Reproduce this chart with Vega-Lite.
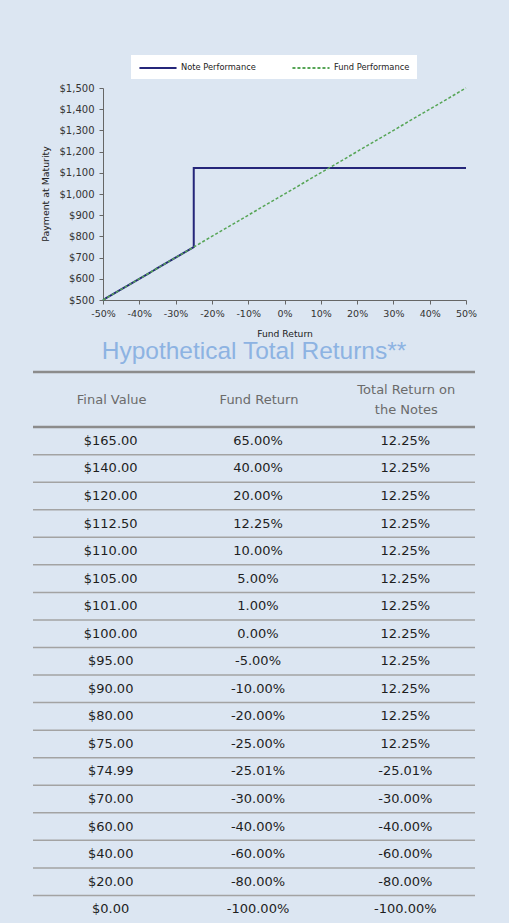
{
  "$schema": "https://vega.github.io/schema/vega-lite/v6.json",
  "background": "#dce6f2",
  "padding": {"left": 31, "top": 55, "right": 34, "bottom": 0},
  "spacing": 0,
  "config": {
    "view": {"stroke": null},
    "font": "DejaVu Sans",
    "locale": {"number": {"decimal": ".", "thousands": ",", "grouping": [3], "currency": ["$", ""], "minus": "-"}}
  },
  "datasets": {
    "axisTitle": [
      {"label": "Payment at Maturity"}
    ],
    "lines": [
      {"series": "Note Performance", "fundReturn": -0.5, "payment": 500},
      {"series": "Note Performance", "fundReturn": -0.25, "payment": 750},
      {"series": "Note Performance", "fundReturn": -0.25, "payment": 1122.5},
      {"series": "Note Performance", "fundReturn": 0.5, "payment": 1122.5},
      {"series": "Fund Performance", "fundReturn": -0.5, "payment": 500},
      {"series": "Fund Performance", "fundReturn": 0.5, "payment": 1500}
    ],
    "table": [
      {"row": "R1", "finalValue": 165, "fundReturn": 0.65, "noteReturn": 0.1225},
      {"row": "R2", "finalValue": 140, "fundReturn": 0.40, "noteReturn": 0.1225},
      {"row": "R3", "finalValue": 120, "fundReturn": 0.20, "noteReturn": 0.1225},
      {"row": "R4", "finalValue": 112.5, "fundReturn": 0.1225, "noteReturn": 0.1225},
      {"row": "R5", "finalValue": 110, "fundReturn": 0.10, "noteReturn": 0.1225},
      {"row": "R6", "finalValue": 105, "fundReturn": 0.05, "noteReturn": 0.1225},
      {"row": "R7", "finalValue": 101, "fundReturn": 0.01, "noteReturn": 0.1225},
      {"row": "R8", "finalValue": 100, "fundReturn": 0, "noteReturn": 0.1225},
      {"row": "R9", "finalValue": 95, "fundReturn": -0.05, "noteReturn": 0.1225},
      {"row": "R10", "finalValue": 90, "fundReturn": -0.10, "noteReturn": 0.1225},
      {"row": "R11", "finalValue": 80, "fundReturn": -0.20, "noteReturn": 0.1225},
      {"row": "R12", "finalValue": 75, "fundReturn": -0.25, "noteReturn": 0.1225},
      {"row": "R13", "finalValue": 74.99, "fundReturn": -0.2501, "noteReturn": -0.2501},
      {"row": "R14", "finalValue": 70, "fundReturn": -0.30, "noteReturn": -0.30},
      {"row": "R15", "finalValue": 60, "fundReturn": -0.40, "noteReturn": -0.40},
      {"row": "R16", "finalValue": 40, "fundReturn": -0.60, "noteReturn": -0.60},
      {"row": "R17", "finalValue": 20, "fundReturn": -0.80, "noteReturn": -0.80},
      {"row": "R18", "finalValue": 0, "fundReturn": -1.00, "noteReturn": -1.00}
    ],
    "headers": [
      {"row": "H1", "col": "Final Value", "label": "Final Value"},
      {"row": "H1", "col": "Fund Return", "label": "Fund Return"},
      {"row": "H1", "col": "Total Return on the Notes", "label": "Total Return on\nthe Notes"}
    ],
    "thickLines": [
      {"row": "H1"},
      {"row": "R1"}
    ]
  },
  "vconcat": [
    {
      "spacing": 0,
      "hconcat": [
        {
          "width": 26,
          "height": 212,
          "data": {"name": "axisTitle"},
          "mark": {"type": "text", "angle": 270, "fontSize": 9.4, "color": "#222222", "align": "center", "baseline": "middle"},
          "encoding": {"text": {"field": "label"}}
        },
        {
          "width": 363,
          "height": 212,
          "data": {"name": "lines"},
          "encoding": {
            "x": {
              "field": "fundReturn", "type": "quantitative",
              "scale": {"domain": [-0.5, 0.5], "nice": false},
              "axis": {
                "values": [-0.5, -0.4, -0.3, -0.2, -0.1, 0, 0.1, 0.2, 0.3, 0.4, 0.5],
                "format": ".0%", "grid": false, "labelOverlap": false, "labelFlush": false,
                "labelFontSize": 9.5, "labelColor": "#333333", "labelPadding": 4,
                "tickSize": 4, "tickColor": "#666666", "domainColor": "#666666",
                "title": "Fund Return", "titleFontSize": 9.2, "titleFontWeight": "normal",
                "titleColor": "#222222", "titlePadding": 12
              }
            },
            "y": {
              "field": "payment", "type": "quantitative",
              "scale": {"domain": [500, 1500], "nice": false, "zero": false},
              "axis": {
                "values": [500, 600, 700, 800, 900, 1000, 1100, 1200, 1300, 1400, 1500],
                "format": "$,.0f", "grid": false, "labelOverlap": false,
                "labelFontSize": 10, "labelColor": "#333333", "labelPadding": 5,
                "tickSize": 4, "tickColor": "#666666", "domainColor": "#666666",
                "title": null
              }
            },
            "color": {
              "field": "series", "type": "nominal",
              "scale": {"domain": ["Note Performance", "Fund Performance"], "range": ["#25267a", "#56a556"]},
              "legend": {
                "orient": "none", "legendX": 98, "legendY": -33, "direction": "horizontal",
                "title": null, "fillColor": "white", "padding": 7,
                "symbolType": "M-4,0H4", "symbolSize": 86, "symbolStrokeWidth": 2, "symbolOffset": 14,
                "labelFontSize": 8.3, "labelColor": "#222222", "labelOffset": 17, "columnPadding": 32
              }
            },
            "strokeDash": {
              "field": "series", "type": "nominal",
              "scale": {"domain": ["Note Performance", "Fund Performance"], "range": [[1, 0], [3, 2]]},
              "legend": {
                "orient": "none", "legendX": 98, "legendY": -33, "direction": "horizontal",
                "title": null, "fillColor": "white", "padding": 7,
                "symbolType": "M-4,0H4", "symbolSize": 86, "symbolStrokeWidth": 2, "symbolOffset": 14,
                "labelFontSize": 8.3, "labelColor": "#222222", "labelOffset": 17, "columnPadding": 32
              }
            },
            "order": {"value": null}
          },
          "layer": [
            {"transform": [{"filter": "datum.series === 'Note Performance'"}], "mark": {"type": "line", "strokeWidth": 2}},
            {"transform": [{"filter": "datum.series === 'Fund Performance'"}], "mark": {"type": "line", "strokeWidth": 1.5}}
          ]
        }
      ]
    },
    {
      "width": 442,
      "height": 551,
      "title": {
        "text": "Hypothetical Total Returns**", "font": "Liberation Sans", "fontSize": 24.5,
        "fontWeight": "normal", "color": "#8db3e2", "anchor": "middle", "offset": 6
      },
      "layer": [
        {
          "data": {"name": "table"},
          "transform": [{"filter": "datum.row !== 'R1'"}],
          "mark": {"type": "rule", "stroke": "#a3a3a3", "strokeWidth": 1.5},
          "encoding": {
            "y": {"field": "row", "type": "ordinal", "bandPosition": 0,
              "scale": {"domain": ["H1","H2","R1","R2","R3","R4","R5","R6","R7","R8","R9","R10","R11","R12","R13","R14","R15","R16","R17","R18"], "paddingInner": 0, "paddingOuter": 0},
              "axis": null}
          }
        },
        {
          "data": {"name": "thickLines"},
          "mark": {"type": "rule", "stroke": "#8c8c8c", "strokeWidth": 2.5},
          "encoding": {
            "y": {"field": "row", "type": "ordinal", "bandPosition": 0, "axis": null}
          }
        },
        {
          "data": {"name": "headers"},
          "transform": [{"filter": "indexof(datum.label, '\\n') < 0"}],
          "mark": {"type": "text", "fontSize": 13, "color": "#6b6b6b", "align": "center", "baseline": "middle", "dx": 5},
          "encoding": {
            "x": {"field": "col", "type": "nominal", "axis": null,
              "scale": {"domain": ["Final Value", "Fund Return", "Total Return on the Notes"], "paddingInner": 0, "paddingOuter": 0}},
            "y": {"field": "row", "type": "ordinal", "bandPosition": 1, "axis": null},
            "text": {"field": "label"}
          }
        },
        {
          "data": {"name": "headers"},
          "transform": [{"filter": "indexof(datum.label, '\\n') >= 0"}],
          "mark": {"type": "text", "fontSize": 13, "color": "#6b6b6b", "align": "center", "baseline": "middle", "lineBreak": "\n", "lineHeight": 20, "dx": 5, "dy": -10},
          "encoding": {
            "x": {"field": "col", "type": "nominal", "axis": null,
              "scale": {"domain": ["Final Value", "Fund Return", "Total Return on the Notes"], "paddingInner": 0, "paddingOuter": 0}},
            "y": {"field": "row", "type": "ordinal", "bandPosition": 1, "axis": null},
            "text": {"field": "label"}
          }
        },
        {
          "data": {"name": "table"},
          "mark": {"type": "text", "fontSize": 13, "color": "#1e1e1e", "align": "center", "baseline": "middle", "dx": 4},
          "encoding": {
            "x": {"datum": "Final Value", "type": "nominal", "axis": null},
            "y": {"field": "row", "type": "ordinal", "axis": null},
            "text": {"field": "finalValue", "type": "quantitative", "format": "$,.2f"}
          }
        },
        {
          "data": {"name": "table"},
          "mark": {"type": "text", "fontSize": 13, "color": "#1e1e1e", "align": "center", "baseline": "middle", "dx": 4},
          "encoding": {
            "x": {"datum": "Fund Return", "type": "nominal", "axis": null},
            "y": {"field": "row", "type": "ordinal", "axis": null},
            "text": {"field": "fundReturn", "type": "quantitative", "format": ".2%"}
          }
        },
        {
          "data": {"name": "table"},
          "mark": {"type": "text", "fontSize": 13, "color": "#1e1e1e", "align": "center", "baseline": "middle", "dx": 4},
          "encoding": {
            "x": {"datum": "Total Return on the Notes", "type": "nominal", "axis": null},
            "y": {"field": "row", "type": "ordinal", "axis": null},
            "text": {"field": "noteReturn", "type": "quantitative", "format": ".2%"}
          }
        }
      ]
    }
  ]
}
